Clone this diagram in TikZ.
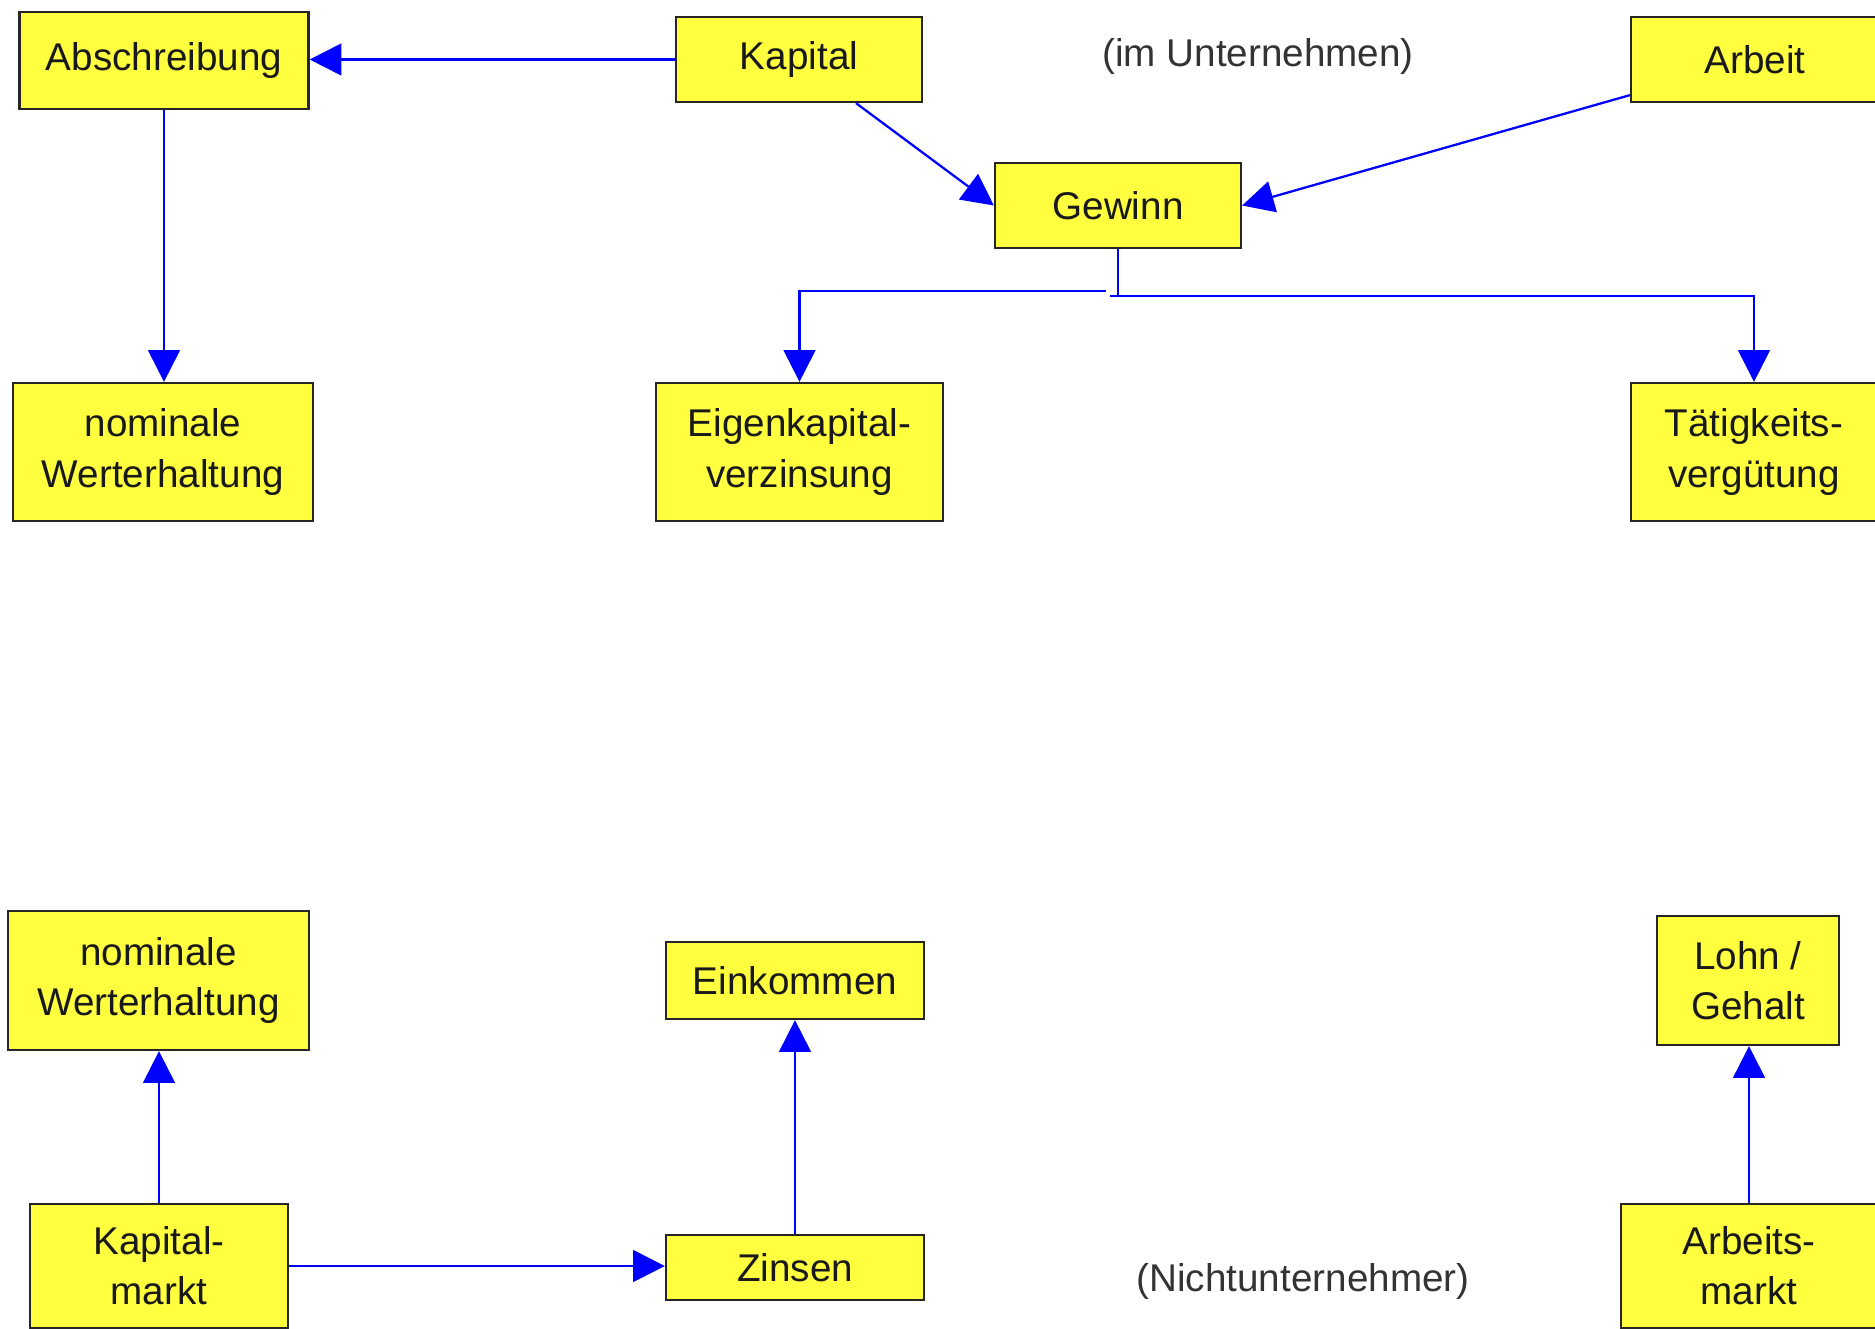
\documentclass[tikz,border=0pt]{standalone}
\usepackage{fontspec}
\setmainfont{Liberation Sans}
\usetikzlibrary{arrows.meta,positioning,calc}
\definecolor{boxyellow}{RGB}{255,255,64}
\definecolor{flowblue}{RGB}{0,0,255}
\begin{document}
\begin{tikzpicture}[x=0.02cm,y=-0.02cm, box/.style={draw=black!85,fill=boxyellow,line width=1.3pt,align=center,inner sep=0pt,font=\fontsize{22}{28.5}\selectfont,text=black!90}, sz/.style 2 args={minimum width=#1*0.02cm,minimum height=#2*0.02cm}, note/.style={font=\fontsize{22}{28.5}\selectfont,text=black!80}, flow/.style={draw=flowblue,line width=1.3pt,-{Triangle[length=18pt,width=18pt]}}]
\useasboundingbox (0,0) rectangle (1875,1328);
\node[box,sz={289}{97}] (absch) at (164,60.5) {Abschreibung};
\node[box,sz={246}{85}] (kapital) at (799,59.5) {Kapital};
\node[note] (unternehmen) at (1258,56) {(im Unternehmen)};
\node[box,sz={248}{85}] (arbeit) at (1755,59.5) {Arbeit};
\node[box,sz={246}{85}] (gewinn) at (1118,205.5) {Gewinn};
\node[box,sz={300}{138}] (nomA) at (163,452) {nominale\\Werterhaltung};
\node[box,sz={287}{138}] (eigen) at (799.5,452) {Eigenkapital-\\verzinsung};
\node[box,sz={246}{138}] (taetig) at (1754,452) {Tätigkeits-\\vergütung};
\node[box,sz={301}{139}] (nomB) at (158.5,980.5) {nominale\\Werterhaltung};
\node[box,sz={258}{77}] (einkommen) at (795,980.5) {Einkommen};
\node[box,sz={182}{129}] (lohn) at (1748,980.5) {Lohn /\\Gehalt};
\node[box,sz={258}{124}] (kmarkt) at (159,1266) {Kapital-\\markt};
\node[box,sz={258}{65}] (zinsen) at (795,1267.5) {Zinsen};
\node[box,sz={256}{124}] (amarkt) at (1749,1266) {Arbeits-\\markt};
\node[note] (nichtunt) at (1303,1281) {(Nichtunternehmer)};
% upper part
\draw[flow] (kapital)--(kapital -| absch.east);\draw[flow] (absch)--(absch |- nomA.north);
\draw[flow] ($(kapital.south)+(57,0)$)--(gewinn.west);\draw[flow] ($(arbeit.south west)+(0,-8)$)--(gewinn.east);
\draw[draw=flowblue,line width=1.3pt] (gewinn.south)--++(0,47);
\draw[flow] ($(gewinn.south)+(-8,47)$) -| (taetig.north);
\draw[flow] ($(gewinn.south)+(-12,42)$) -| (eigen.north);
% lower part
\draw[flow] (kmarkt)--(kmarkt |- nomB.south);\draw[flow] (kmarkt.east)--(kmarkt.east -| zinsen.west);\draw[flow] (zinsen)--(einkommen);\draw[flow] (amarkt)--(amarkt |- lohn.south);
\end{tikzpicture}
\end{document}
